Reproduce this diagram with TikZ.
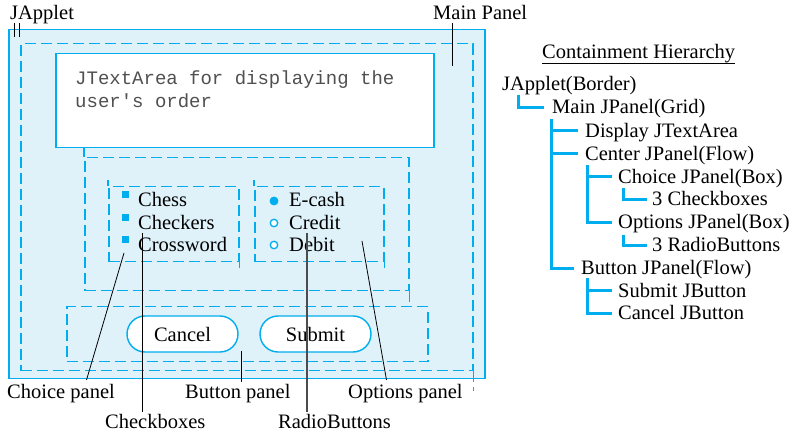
\documentclass[tikz,border=0pt]{standalone}
\usepackage{fontspec}
\setmainfont{Liberation Serif}
\newfontfamily\monofont{Liberation Mono}
\definecolor{jcyan}{RGB}{0,174,239}
\definecolor{jfill}{RGB}{223,242,250}
\definecolor{monogray}{RGB}{80,80,80}
\begin{document}
\begin{tikzpicture}[x=1pt,y=-1pt,
  lbl/.style={inner sep=0pt, anchor=base west, text height=13pt, text depth=0pt, font=\fontsize{20.5}{24}\selectfont},
  mono/.style={inner sep=0pt, anchor=base west, text=monogray, font=\monofont\fontsize{19}{23}\selectfont},
  panel/.style={draw=jcyan, line width=1.5pt, dash pattern=on 11pt off 5pt, inner sep=0pt, anchor=north west},
  dashext/.style={draw=jcyan, line width=1.5pt, dash pattern=on 11pt off 5pt},
  solidbox/.style={draw=jcyan, line width=1.5pt, inner sep=0pt, anchor=north west},
  pill/.style={draw=jcyan, line width=1.4pt, fill=white, rounded corners=18pt, minimum width=111pt, minimum height=36pt, inner sep=0pt, font=\fontsize{20.5}{24}\selectfont},
  ptr/.style={draw=black, line width=0.8pt},
  tree/.style={draw=jcyan, line width=3pt},
  ckbox/.style={fill=jcyan, minimum size=7pt, inner sep=0pt},
  radio/.style={circle, draw=jcyan, line width=1.3pt, minimum size=7.5pt, inner sep=0pt}
]
\useasboundingbox (0,0) rectangle (796,435);
\fill[white] (0,0) rectangle (796,435);

% ---------- left: GUI sketch ----------
\node[solidbox, fill=jfill, minimum width=476pt, minimum height=349pt] (applet) at (8,29) {};
\node[panel, minimum width=452pt, minimum height=327pt] (mainp) at (20,43) {};
\draw[dashext] (mainp.south east) -- ++(0,20);
\node[solidbox, fill=white, minimum width=378pt, minimum height=94pt] (tarea) at (55,53) {};
\node[mono] (ta1) at (75,85) {JTextArea for displaying the};
\node[mono] (ta2) at (75,108) {user\textquotesingle s order};

\node[panel, minimum width=324pt, minimum height=133pt] (center) at (84,157) {};
\draw[dashext] (center.north west) -- (center.north west |- tarea.south);
\draw[dashext] (center.south east) -- ++(0,12);

\node[panel, minimum width=130pt, minimum height=75pt] (choice) at (108,186) {};
\draw[dashext] (choice.north west) -- ++(0,-6);
\draw[dashext] (choice.south east) -- ++(0,6);
\node[panel, minimum width=129pt, minimum height=75pt] (options) at (254,186) {};
\draw[dashext] (options.north west) -- ++(0,-6);
\draw[dashext] (options.south east) -- ++(0,6);

\node[ckbox] (cb1) at (125.5,195) {};
\node[ckbox] (cb2) at (125.5,217.5) {};
\node[ckbox] (cb3) at (125.5,240) {};
\node[lbl] (chess) at (138,207) {Chess};
\node[lbl] (checkers) at (138,229.5) {Checkers};
\node[lbl] (crossword) at (138,252) {Crossword};

\node[radio, fill=jcyan] (rb1) at (274,201) {};
\node[radio, fill=white] (rb2) at (274,223) {};
\node[radio, fill=white] (rb3) at (274,245) {};
\node[lbl] (ecash) at (289,207) {E-cash};
\node[lbl] (credit) at (289,229.5) {Credit};
\node[lbl] (debit) at (289,252) {Debit};

\node[panel, minimum width=361pt, minimum height=55pt] (buttonp) at (66,306) {};
\node[pill] (cancel) at (182.5,334) {Cancel};
\node[pill] (submit) at (315.5,334) {Submit};

% labels
\node[lbl] (lapplet) at (10,20) {JApplet};
\node[lbl] (lmain) at (433,20) {Main Panel};
\node[lbl] (lchoice) at (7,399) {Choice panel};
\node[lbl] (lbutton) at (185,399) {Button panel};
\node[lbl] (loptions) at (348,399) {Options panel};
\node[lbl] (lcheck) at (105,429) {Checkboxes};
\node[lbl] (lradio) at (278,429) {RadioButtons};

% pointer lines
\coordinate (pa1) at (14,23); \coordinate (pa2) at (14,37);
\coordinate (pb1) at (19,23); \coordinate (pb2) at (19,37);
\draw[ptr] (pa1) -- (pa2);
\draw[ptr] (pb1) -- (pb2);
\coordinate (pm1) at (452,23); \coordinate (pm2) at (452,66);
\draw[ptr] (pm1) -- (pm2);
\coordinate (pc1) at (86.5,380); \coordinate (pc2) at (124,253);
\draw[ptr] (pc1) -- (pc2);
\coordinate (pk1) at (142,412); \coordinate (pk2) at (142,233);
\draw[ptr] (pk1) -- (pk2);
\coordinate (pp1) at (241,382); \coordinate (pp2) at (241,351);
\draw[ptr] (pp1) -- (pp2);
\coordinate (pr1) at (307,412); \coordinate (pr2) at (307,233);
\draw[ptr, line width=1.1pt, black!70] (pr1) -- (pr2);
\coordinate (po1) at (386.5,380); \coordinate (po2) at (362,241);
\draw[ptr] (po1) -- (po2);

% ---------- right: containment hierarchy ----------
\node[lbl] (hh) at (542,59) {Containment Hierarchy};
\draw[line width=0.9pt] ([yshift=-4pt]hh.south west) -- ([yshift=-4pt]hh.south east);
\node[lbl] (h1) at (502,91) {JApplet(Border)};
\node[lbl] (h2) at (552,114) {Main JPanel(Grid)};
\node[lbl] (h3) at (585,137.5) {Display JTextArea};
\node[lbl] (h4) at (585,160.5) {Center JPanel(Flow)};
\node[lbl] (h5) at (618,183.5) {Choice JPanel(Box)};
\node[lbl] (h6) at (652,206) {3 Checkboxes};
\node[lbl] (h7) at (618,229) {Options JPanel(Box)};
\node[lbl] (h8) at (652,252) {3 RadioButtons};
\node[lbl] (h9) at (581,275) {Button JPanel(Flow)};
\node[lbl] (h10) at (618,297.5) {Submit JButton};
\node[lbl] (h11) at (618,320) {Cancel JButton};

\coordinate (t1) at (518,95);
\coordinate (t2) at (551,119);
\coordinate (t3) at (587,165);
\coordinate (t4) at (623,188);
\coordinate (t5) at (623,235);
\coordinate (t6) at (587,278);
\draw[tree] (t1) |- ([xshift=-8pt]h2.west);
\draw[tree] (t2) |- ([xshift=-7pt]h9.west);
\draw[tree] (t2 |- h3.west) -- ([xshift=-7pt]h3.west);
\draw[tree] (t2 |- h4.west) -- ([xshift=-7pt]h4.west);
\draw[tree] (t3) |- ([xshift=-6pt]h7.west);
\draw[tree] (t3 |- h5.west) -- ([xshift=-6pt]h5.west);
\draw[tree] (t4) |- ([xshift=-5pt]h6.west);
\draw[tree] (t5) |- ([xshift=-5pt]h8.west);
\draw[tree] (t6) |- ([xshift=-6pt]h11.west);
\draw[tree] (t6 |- h10.west) -- ([xshift=-6pt]h10.west);
\end{tikzpicture}
\end{document}
